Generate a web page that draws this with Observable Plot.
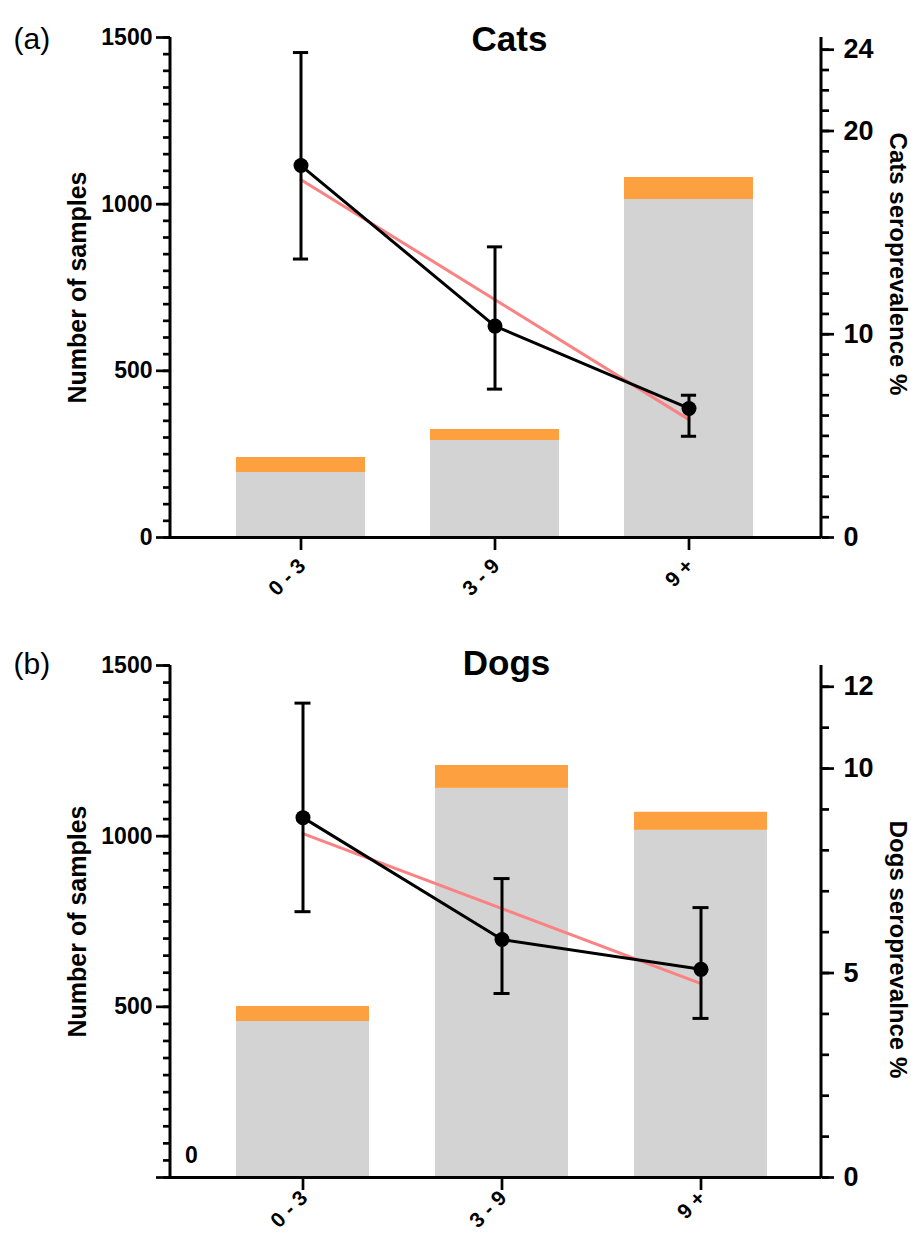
<!DOCTYPE html>
<html>
<head>
<meta charset="utf-8">
<script src="https://cdn.jsdelivr.net/npm/d3@7"></script>
<script src="https://cdn.jsdelivr.net/npm/@observablehq/plot@0.6"></script>
<style>
  html, body { margin: 0; padding: 0; background: #fff; }
  #chart svg { display: block; }
  #chart g[aria-label$="axis tick"] path { stroke-width: 2.7px; stroke: #000; }
</style>
</head>
<body>
<div id="chart"></div>
<script>
// ---- data ----
const categories = ["0 - 3", "3 - 9", "9 +"];

const catsNegative = [195, 291, 1014];
const catsPositive = [45, 33, 66];
const catsPrevalence = [18.3, 10.4, 6.35];
const catsLow = [13.7, 7.3, 4.98];
const catsHigh = [23.86, 14.3, 7.0];
const catsTrend = [17.6, 5.8];          // trend line at first and last age group
const catsPrevTicks = [0, 10, 20, 24];

const dogsNegative = [457, 1140, 1017];
const dogsPositive = [44, 67, 53];
const dogsPrevalence = [8.8, 5.82, 5.09];
const dogsLow = [6.5, 4.5, 3.89];
const dogsHigh = [11.6, 7.31, 6.6];
const dogsTrend = [8.41, 4.74];
const dogsPrevTicks = [0, 5, 10, 12];

const countTicks = [0, 500, 1000, 1500];

const FONT = "'Liberation Sans', Arial, Helvetica, sans-serif";
const GRAY = "#d3d3d3";
const ORANGE = "#fda040";
const RED = "#fa8282";

function panel(o) {
  const k = 1500 / o.prevMax;
  const s = v => v * k;
  const rows = categories.map((c, i) => ({
    cat: c, neg: o.neg[i], pos: o.pos[i],
    prev: s(o.prev[i]), low: s(o.low[i]), high: s(o.high[i])
  }));
  const trendRows = [
    {cat: categories[0], v: s(o.trend[0])},
    {cat: categories[categories.length - 1], v: s(o.trend[1])}
  ];
  const step = (o.xRange[1] - o.xRange[0]) / (categories.length + 1/3);
  const bw = step * 2 / 3;
  const capInset = bw / 2 - 8;
  const minorCount = d3.range(0, 1501, 50);
  const minorPrev = d3.range(0, Math.floor(o.prevMax) + 1, 1).map(s);
  const marginLeft = 170, marginRight = 90, width = 911;

  const svg = Plot.plot({
    width,
    height: o.height,
    marginTop: o.marginTop,
    marginBottom: o.marginBottom,
    marginLeft,
    marginRight,
    style: {fontFamily: FONT, background: "#fff", color: "#000", overflow: "visible"},
    x: {domain: categories, range: o.xRange, paddingInner: 1/3, paddingOuter: 1/3},
    y: {domain: [0, 1500]},
    marks: [
      Plot.barY(rows, {x: "cat", y1: 0, y2: "neg", fill: GRAY}),
      Plot.barY(rows, {x: "cat", y1: "neg", y2: d => d.neg + d.pos, fill: ORANGE}),
      Plot.line(trendRows, {x: "cat", y: "v", stroke: RED, strokeWidth: 3}),
      Plot.line(rows, {x: "cat", y: "prev", stroke: "#000", strokeWidth: 3}),
      Plot.ruleX(rows, {x: "cat", y1: "low", y2: "high", stroke: "#000", strokeWidth: 3}),
      Plot.tickY(rows, {x: "cat", y: "low", stroke: "#000", strokeWidth: 3, insetLeft: capInset, insetRight: capInset}),
      Plot.tickY(rows, {x: "cat", y: "high", stroke: "#000", strokeWidth: 3, insetLeft: capInset, insetRight: capInset}),
      Plot.dot(rows, {x: "cat", y: "prev", r: 7.5, fill: "#000"}),
      // x axis
      Plot.ruleY([0], {stroke: "#000", strokeWidth: 3}),
      Plot.axisX({tickSize: 13, text: null, label: null}),
      Plot.text(categories, {x: d => d, y: 0, dx: 1, dy: o.xLabelDy, rotate: -45, textAnchor: "end",
                fontSize: 21, fontWeight: "bold"}),
      // left axis
      Plot.axisY({anchor: "left", ticks: minorCount, tickSize: 7, text: null, label: null}),
      Plot.axisY({anchor: "left", ticks: countTicks, tickSize: 14, tickPadding: 4,
                  fontSize: 23, fontWeight: "bold", label: null,
                  tickFormat: d => (o.zeroInside && d === 0) ? "" : String(d)}),
      // right axis
      Plot.axisY({anchor: "right", ticks: minorPrev, tickSize: 7, text: null, label: null}),
      Plot.axisY({anchor: "right", ticks: o.prevTicks.map(s), tickSize: 12, tickPadding: 10,
                  fontSize: 27, fontWeight: "bold", label: null, tickFormat: d => String(Math.round(d / k))}),
      // axis titles
      Plot.text([o.yLabel], {frameAnchor: "left", textAnchor: "middle", dx: -93, dy: o.leftLabelDy, rotate: -90,
                 fontSize: 25, fontWeight: "bold"}),
      Plot.text([o.prevLabel], {frameAnchor: "right", textAnchor: "middle", dx: 76, dy: o.rightLabelDy, rotate: 90,
                 fontSize: 24, fontWeight: "bold"}),
      // title and tag
      Plot.text([o.title], {frameAnchor: "top", textAnchor: "middle", dx: o.titleDx, dy: o.titleDy, fontSize: 35, fontWeight: "bold"}),
      Plot.text([o.tag], {frameAnchor: "top-left", textAnchor: "start", dx: -157, dy: o.tagDy, fontSize: 30}),
      ...(o.zeroInside ? [Plot.text(["0"], {frameAnchor: "bottom-left", textAnchor: "middle", dx: 21, dy: -15, fontSize: 23, fontWeight: "bold"})] : [])
    ]
  });

  // vertical axis lines at the frame edges, from the plot's own y scale
  const [yBottom, yTop] = svg.scale("y").range;
  const g = d3.select(svg).append("g").attr("stroke", "#000").attr("stroke-width", 3);
  [marginLeft, width - marginRight].forEach(xp => {
    g.append("line").attr("x1", xp).attr("x2", xp).attr("y1", yTop).attr("y2", yBottom + 1.5);
  });
  return svg;
}

const chart = document.getElementById("chart");
chart.append(panel({
  neg: catsNegative, pos: catsPositive, prev: catsPrevalence, low: catsLow, high: catsHigh,
  trend: catsTrend, prevMax: 24.6, prevTicks: catsPrevTicks,
  title: "Cats", tag: "(a)", yLabel: "Number of samples", prevLabel: "Cats seroprevalence %",
  height: 610, marginTop: 37, marginBottom: 73, xRange: [170, 819], xLabelDy: 25,
  titleDx: 13.5, titleDy: -11.2, tagDy: -9.6, leftLabelDy: 0, rightLabelDy: -23.5, zeroInside: false
}));
chart.append(panel({
  neg: dogsNegative, pos: dogsPositive, prev: dogsPrevalence, low: dogsLow, high: dogsHigh,
  trend: dogsTrend, prevMax: 12.52, prevTicks: dogsPrevTicks,
  title: "Dogs", tag: "(b)", yLabel: "Number of samples", prevLabel: "Dogs seroprevalnce %",
  height: 627, marginTop: 55, marginBottom: 60, xRange: [168.5, 833.5], xLabelDy: 17,
  titleDx: 10.5, titleDy: -15.2, tagDy: -12.6, leftLabelDy: 0, rightLabelDy: 28, zeroInside: true
}));
</script>
</body>
</html>
